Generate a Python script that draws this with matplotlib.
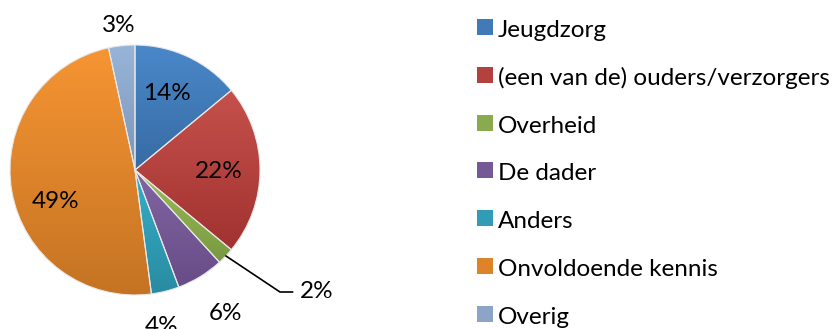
import numpy as np
import matplotlib
matplotlib.use("Agg")
import matplotlib.pyplot as plt
from matplotlib.patches import Rectangle

plt.rcParams['font.family'] = ['Lato', 'DejaVu Sans']

categories = ["Jeugdzorg", "(een van de) ouders/verzorgers", "Overheid", "De dader",
              "Anders", "Onvoldoende kennis", "Overig"]
shares = [14.0, 22.0, 2.2, 6.1, 3.6, 48.7, 3.4]

# light (top) and dark (bottom) shade of each slice
top_colors = ["#4a88ca", "#c6514c", "#9cbd5a", "#8166a4", "#37aec8", "#f69533", "#98b5d9"]
bottom_colors = ["#376ba3", "#a13230", "#789940", "#674c86", "#288ca2", "#c47323", "#7b95b6"]

# label positions in pie units (radius = 1)
label_xy = [(0.256, 0.608), (0.672, -0.016), (1.45, -0.976), (0.72, -1.144),
            (0.216, -1.25), (-0.632, -0.256), (-0.128, 1.16)]

W, H = 839, 329
fig = plt.figure(figsize=(W / 100, H / 100), dpi=100)
cx, cy, r = 135, 170, 125
ax = fig.add_axes([(cx - r) / W, (H - cy - r) / H, 2 * r / W, 2 * r / H])

wedges, _ = ax.pie(shares, startangle=90, counterclock=False, radius=1,
                   wedgeprops=dict(linewidth=0.8, edgecolor="#e8e8e8"))
ax.set_xlim(-1, 1)
ax.set_ylim(-1, 1)
ax.set_aspect("equal")
ax.axis("off")


def shade(c1, c2, n=256):
    a = np.array(matplotlib.colors.to_rgb(c1))
    b = np.array(matplotlib.colors.to_rgb(c2))
    t = np.linspace(0, 1, n)[:, None]
    return (a * (1 - t) + b * t)[:, None, :]


for w, c1, c2 in zip(wedges, top_colors, bottom_colors):
    verts = w.get_path().vertices
    x0, x1 = verts[:, 0].min(), verts[:, 0].max()
    y0, y1 = verts[:, 1].min(), verts[:, 1].max()
    im = ax.imshow(shade(c1, c2), extent=(x0, x1, y0, y1), origin="upper",
                   aspect="auto", zorder=1.5, interpolation="bilinear")
    im.set_clip_path(w)
    w.set_zorder(2)
    w.set_facecolor("none")

for s, (lx, ly) in zip(shares, label_xy):
    ax.text(lx, ly, f"{s:.0f}%", ha="center", va="center", fontsize=17.5,
            color="black", clip_on=False)

# leader line for the small Overheid slice
ax.plot([0.728, 1.16, 1.26], [-0.688, -0.976, -0.976], color="black", lw=1.2,
        clip_on=False, zorder=3)

# legend
row0, step = 27, 47.8
for i, (name, c1, c2) in enumerate(zip(categories, top_colors, bottom_colors)):
    yc = row0 + i * step
    mid = tuple((np.array(matplotlib.colors.to_rgb(c1)) + np.array(matplotlib.colors.to_rgb(c2))) / 2)
    fig.patches.append(Rectangle((477 / W, (H - yc - 8) / H), 16 / W, 16 / H,
                                 transform=fig.transFigure, facecolor=mid, edgecolor="none"))
    fig.text(498 / W, (H - yc - 10) / H, name, ha="left", va="baseline", fontsize=17.5)

fig.savefig("out.png", dpi=100)
